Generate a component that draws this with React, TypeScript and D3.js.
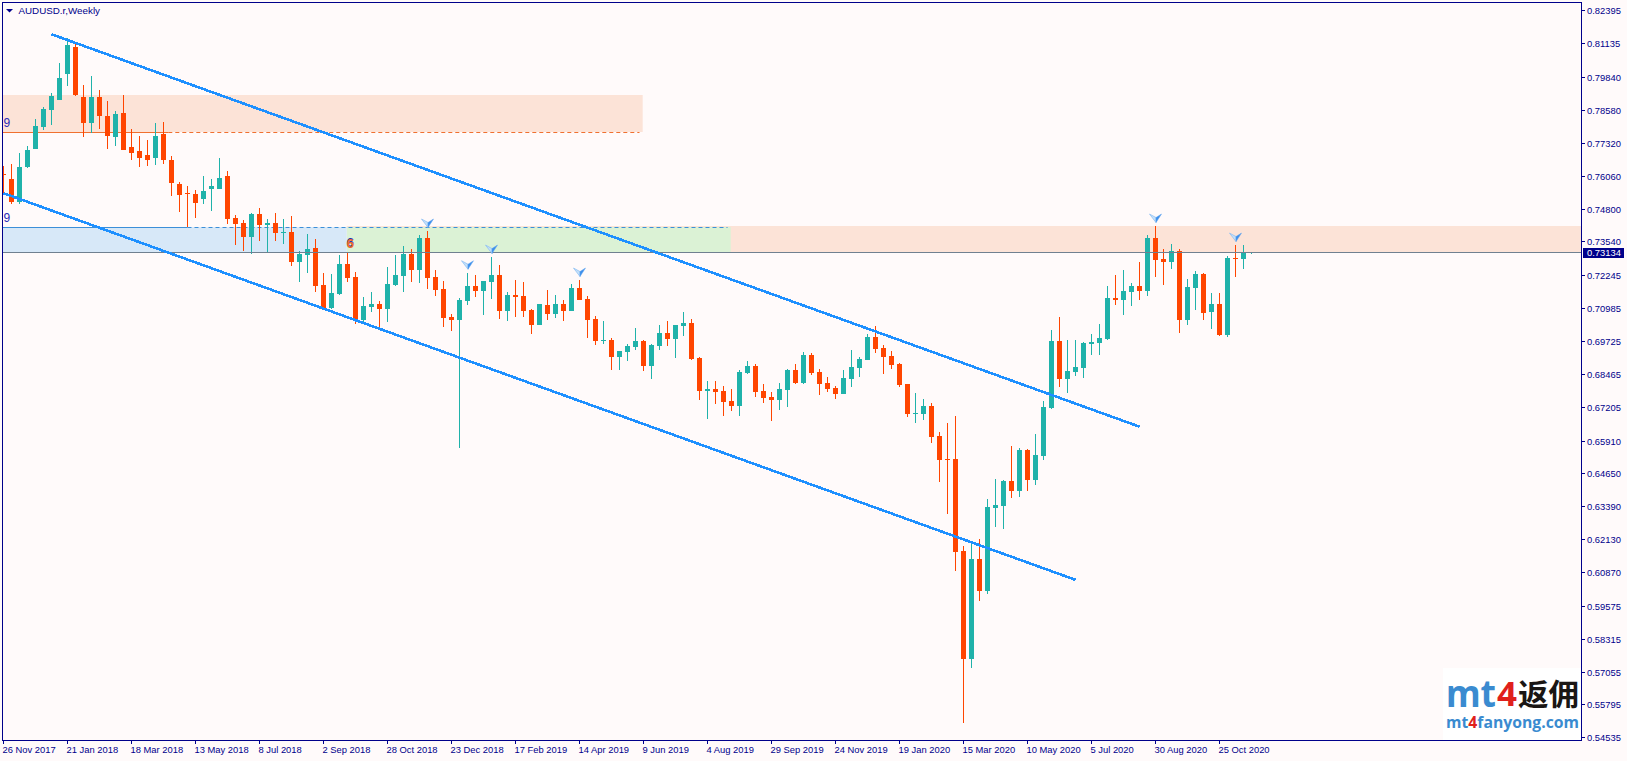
import React from 'react';
import * as d3 from 'd3';

const W = 1627;
const H = 761;

const opens = [
  0.7613, 0.7593, 0.7505, 0.7639, 0.7708, 0.7792, 0.7858, 0.7896, 0.7996, 0.8099,
  0.7907, 0.7808, 0.7907, 0.7835, 0.7754, 0.7846, 0.7716, 0.7700, 0.7685, 0.7674,
  0.7766, 0.7666, 0.7574, 0.7540, 0.7536, 0.7517, 0.7555, 0.7555, 0.7605, 0.7444,
  0.7425, 0.7371, 0.7459, 0.7417, 0.7425, 0.7386, 0.7390, 0.7275, 0.7302, 0.7329,
  0.7187, 0.7099, 0.7153, 0.7268, 0.7218, 0.7053, 0.7103, 0.7115, 0.7095, 0.7187,
  0.7222, 0.7306, 0.7245, 0.7367, 0.7218, 0.7172, 0.7065, 0.7053, 0.7126, 0.7183,
  0.7164, 0.7198, 0.7225, 0.7087, 0.7149, 0.7145, 0.7091, 0.7034, 0.7111, 0.7076,
  0.7115, 0.7087, 0.7176, 0.7134, 0.7057, 0.6973, 0.6976, 0.6911, 0.6930, 0.6950,
  0.6973, 0.6877, 0.6953, 0.7003, 0.6980, 0.7030, 0.7041, 0.6907, 0.6781, 0.6789,
  0.6781, 0.6743, 0.6723, 0.6850, 0.6877, 0.6781, 0.6758, 0.6746, 0.6785, 0.6861,
  0.6812, 0.6919, 0.6854, 0.6812, 0.6793, 0.6770, 0.6827, 0.6869, 0.6900, 0.6988,
  0.6946, 0.6915, 0.6884, 0.6808, 0.6693, 0.6693, 0.6723, 0.6608, 0.6520, 0.6520,
  0.6167, 0.5753, 0.6137, 0.6014, 0.6332, 0.6340, 0.6436, 0.6397, 0.6555, 0.6440,
  0.6532, 0.6716, 0.6973, 0.6827, 0.6854, 0.6869, 0.6961, 0.6965, 0.6980, 0.7137,
  0.7130, 0.7160, 0.7183, 0.7164, 0.7367, 0.7287, 0.7275, 0.7317, 0.7053, 0.7176,
  0.7229, 0.7084, 0.7115, 0.6995, 0.7290, 0.7287, 0.7310,
];

const closes = [
  0.7609, 0.7505, 0.7639, 0.7704, 0.7796, 0.7862, 0.7911, 0.7980, 0.8107, 0.7915,
  0.7808, 0.7907, 0.7835, 0.7758, 0.7842, 0.7704, 0.7693, 0.7674, 0.7666, 0.7758,
  0.7666, 0.7578, 0.7532, 0.7536, 0.7501, 0.7547, 0.7566, 0.7597, 0.7440, 0.7421,
  0.7371, 0.7459, 0.7417, 0.7425, 0.7386, 0.7390, 0.7275, 0.7306, 0.7325, 0.7183,
  0.7099, 0.7157, 0.7268, 0.7214, 0.7057, 0.7107, 0.7115, 0.7095, 0.7191, 0.7225,
  0.7306, 0.7245, 0.7367, 0.7214, 0.7168, 0.7061, 0.7053, 0.7130, 0.7183, 0.7164,
  0.7202, 0.7225, 0.7087, 0.7149, 0.7141, 0.7087, 0.7034, 0.7115, 0.7076, 0.7115,
  0.7087, 0.7176, 0.7130, 0.7053, 0.6973, 0.6976, 0.6911, 0.6934, 0.6953, 0.6973,
  0.6877, 0.6957, 0.7003, 0.6980, 0.7034, 0.7041, 0.6903, 0.6781, 0.6789, 0.6777,
  0.6739, 0.6723, 0.6854, 0.6877, 0.6777, 0.6754, 0.6746, 0.6789, 0.6861, 0.6812,
  0.6919, 0.6850, 0.6808, 0.6789, 0.6770, 0.6831, 0.6873, 0.6903, 0.6988, 0.6942,
  0.6911, 0.6880, 0.6804, 0.6693, 0.6697, 0.6723, 0.6604, 0.6516, 0.6516, 0.6164,
  0.5753, 0.6137, 0.6014, 0.6336, 0.6344, 0.6436, 0.6397, 0.6555, 0.6440, 0.6535,
  0.6719, 0.6973, 0.6827, 0.6857, 0.6873, 0.6965, 0.6969, 0.6984, 0.7137, 0.7130,
  0.7164, 0.7183, 0.7164, 0.7367, 0.7283, 0.7275, 0.7317, 0.7053, 0.7179, 0.7229,
  0.7080, 0.7115, 0.6995, 0.7290, 0.7287, 0.7313, 0.73134,
];

const highs = [
  0.7643, 0.7651, 0.7693, 0.7720, 0.7823, 0.7869, 0.7923, 0.8038, 0.8134, 0.8115,
  0.7954, 0.7988, 0.7934, 0.7892, 0.7854, 0.7915, 0.7785, 0.7758, 0.7743, 0.7808,
  0.7812, 0.7681, 0.7582, 0.7566, 0.7551, 0.7605, 0.7593, 0.7674, 0.7624, 0.7455,
  0.7436, 0.7463, 0.7482, 0.7440, 0.7463, 0.7440, 0.7451, 0.7317, 0.7383, 0.7363,
  0.7234, 0.7230, 0.7302, 0.7313, 0.7237, 0.7141, 0.7160, 0.7126, 0.7256, 0.7302,
  0.7336, 0.7325, 0.7378, 0.7394, 0.7245, 0.7202, 0.7076, 0.7137, 0.7234, 0.7225,
  0.7202, 0.7294, 0.7264, 0.7160, 0.7206, 0.7198, 0.7095, 0.7115, 0.7168, 0.7149,
  0.7130, 0.7191, 0.7206, 0.7145, 0.7069, 0.7049, 0.6984, 0.6934, 0.6961, 0.7022,
  0.6976, 0.6961, 0.7034, 0.7049, 0.7034, 0.7084, 0.7057, 0.6911, 0.6819, 0.6819,
  0.6800, 0.6789, 0.6861, 0.6896, 0.6884, 0.6808, 0.6777, 0.6812, 0.6865, 0.6884,
  0.6930, 0.6927, 0.6865, 0.6834, 0.6800, 0.6861, 0.6938, 0.6911, 0.7000, 0.7030,
  0.6957, 0.6934, 0.6888, 0.6808, 0.6773, 0.6750, 0.6735, 0.6623, 0.6658, 0.6685,
  0.6186, 0.6198, 0.6213, 0.6367, 0.6444, 0.6440, 0.6570, 0.6562, 0.6559, 0.6616,
  0.6743, 0.7015, 0.7065, 0.6976, 0.6976, 0.6969, 0.6999, 0.7038, 0.7183, 0.7225,
  0.7245, 0.7195, 0.7275, 0.7378, 0.7413, 0.7325, 0.7344, 0.7325, 0.7210, 0.7241,
  0.7234, 0.7157, 0.7157, 0.7298, 0.7340, 0.7340, 0.73134,
];

const lows = [
  0.7540, 0.7498, 0.7498, 0.7635, 0.7708, 0.7781, 0.7800, 0.7896, 0.7950, 0.7911,
  0.7754, 0.7770, 0.7785, 0.7708, 0.7720, 0.7704, 0.7666, 0.7639, 0.7643, 0.7647,
  0.7651, 0.7528, 0.7467, 0.7409, 0.7444, 0.7498, 0.7470, 0.7555, 0.7421, 0.7340,
  0.7317, 0.7306, 0.7355, 0.7313, 0.7355, 0.7344, 0.7260, 0.7198, 0.7234, 0.7160,
  0.7095, 0.7095, 0.7149, 0.7198, 0.7038, 0.7045, 0.7084, 0.7022, 0.7045, 0.7183,
  0.7160, 0.7198, 0.7195, 0.7172, 0.7145, 0.7026, 0.7011, 0.6562, 0.7111, 0.7141,
  0.7072, 0.7134, 0.7057, 0.7049, 0.7065, 0.7065, 0.6999, 0.7034, 0.7053, 0.7061,
  0.7049, 0.7087, 0.7130, 0.6984, 0.6957, 0.6961, 0.6861, 0.6861, 0.6896, 0.6938,
  0.6857, 0.6827, 0.6938, 0.6953, 0.6907, 0.6992, 0.6900, 0.6746, 0.6674, 0.6731,
  0.6685, 0.6704, 0.6685, 0.6846, 0.6758, 0.6735, 0.6666, 0.6708, 0.6719, 0.6808,
  0.6808, 0.6842, 0.6766, 0.6777, 0.6750, 0.6770, 0.6796, 0.6834, 0.6900, 0.6927,
  0.6846, 0.6865, 0.6796, 0.6681, 0.6658, 0.6670, 0.6581, 0.6432, 0.6309, 0.6091,
  0.5508, 0.5719, 0.5976, 0.6003, 0.6259, 0.6252, 0.6371, 0.6374, 0.6397, 0.6421,
  0.6516, 0.6712, 0.6796, 0.6773, 0.6838, 0.6831, 0.6919, 0.6919, 0.6976, 0.7111,
  0.7072, 0.7107, 0.7130, 0.7145, 0.7218, 0.7187, 0.7249, 0.7003, 0.7034, 0.7091,
  0.7053, 0.7019, 0.6992, 0.6988, 0.7218, 0.7249, 0.7306,
];

const priceTicks = [
  0.82395, 0.81135, 0.7984, 0.7858, 0.7732, 0.7606, 0.748, 0.7354, 0.72245, 0.70985, 0.69725, 0.68465,
  0.67205, 0.6591, 0.6465, 0.6339, 0.6213, 0.6087, 0.59575, 0.58315, 0.57055, 0.55795, 0.54535,
];

const dateTicks = [
  '26 Nov 2017', '21 Jan 2018', '18 Mar 2018', '13 May 2018', '8 Jul 2018', '2 Sep 2018', '28 Oct 2018',
  '23 Dec 2018', '17 Feb 2019', '14 Apr 2019', '9 Jun 2019', '4 Aug 2019', '29 Sep 2019', '24 Nov 2019',
  '19 Jan 2020', '15 Mar 2020', '10 May 2020', '5 Jul 2020', '30 Aug 2020', '25 Oct 2020',
];

const lastPrice = 0.73134;
// weeks with a fractal arrow above the high
const arrowBars = [53, 58, 61, 72, 144, 154];
// trend lines: [bar, price, bar, price]
const upperLine = [6, 0.8148, 142, 0.6644];
const lowerLine = [0, 0.7539, 134, 0.6057];

const UP = '#20B2AA';
const DOWN = '#FF4500';
const NAVY = '#00008B';
const BLUE = '#1E90FF';
const FONT = '"Liberation Sans", Arial, sans-serif';

const left = 2;
const right = 1581;
const top = 2;
const bottom = 740;

const x = d3.scaleLinear().domain([0, 156]).range([3.5, 1251.5]);
const y = d3.scaleLinear().domain([0.54535, 0.82395]).range([737.3, 10.4]);

const App: React.FC = () => {
  const px = (p: number) => Math.round(y(p));

  return (
    <svg
      width={W}
      height={H}
      style={{ position: 'absolute', left: 0, top: 0, display: 'block', background: '#FFFAFA' }}
    >
      <defs>
        <clipPath id="plot">
          <rect x={left} y={top} width={right - left} height={bottom - top} />
        </clipPath>
      </defs>

      <g clipPath="url(#plot)">
        {/* zones */}
        <rect x={left} y={px(0.7915)} width={x(79.9) - left} height={px(0.7772) - px(0.7915)} fill="#FCE3D7" />
        <rect x={x(42.9)} y={px(0.7413)} width={right - x(42.9)} height={px(lastPrice) - px(0.7413)} fill="#FCE3D7" />
        <rect x={x(42.9)} y={px(0.7408)} width={x(90.9) - x(42.9)} height={px(lastPrice) - px(0.7408)} fill="#DBF2D5" />
        <rect x={left} y={px(0.7408)} width={x(42.9) - left} height={px(lastPrice) - px(0.7408)} fill="#D7E8F8" />

        <line x1={left} x2={x(20.6)} y1={px(0.7772) + 0.5} y2={px(0.7772) + 0.5} stroke="#F07030" />
        <line x1={x(20.6)} x2={x(79.5)} y1={px(0.7772) + 0.5} y2={px(0.7772) + 0.5} stroke="#F07030" strokeDasharray="4 3" />
        <line x1={left} x2={x(23)} y1={px(0.7408) + 0.5} y2={px(0.7408) + 0.5} stroke="#3C8FD8" />
        <line x1={x(23)} x2={x(90.5)} y1={px(0.7408) + 0.5} y2={px(0.7408) + 0.5} stroke="#3C8FD8" strokeDasharray="4 3" />

        <text x={3.5} y={127} fontFamily={FONT} fontSize={12} fill="#2A2AB8">9</text>
        <text x={3.5} y={222} fontFamily={FONT} fontSize={12} fill="#2A2AB8">9</text>
        <text x={346.5} y={247} fontFamily={FONT} fontSize={13.5} fontWeight="bold" fill="#2030B0">6</text>
        <text x={346.5} y={248} fontFamily={FONT} fontSize={13.5} fontWeight="bold" fill="#EE6A2C">6</text>

        {/* candles */}
        <g shapeRendering="crispEdges">
          {closes.map((c, i) => {
            const o = opens[i];
            const color = c >= o ? UP : DOWN;
            const t = px(Math.max(o, c));
            const b = px(Math.min(o, c));
            return (
              <g key={i}>
                <line x1={x(i)} x2={x(i)} y1={px(highs[i])} y2={px(lows[i])} stroke={color} />
                <rect x={x(i) - 2.5} y={t} width={5} height={Math.max(1, b - t)} fill={color} />
              </g>
            );
          })}
        </g>

        {/* price line */}
        <line
          x1={left}
          x2={right}
          y1={px(lastPrice) + 0.5}
          y2={px(lastPrice) + 0.5}
          stroke="#708090"
          shapeRendering="crispEdges"
        />

        {/* trend channel */}
        {[upperLine, lowerLine].map((l, i) => (
          <line
            key={i}
            x1={x(l[0])}
            y1={y(l[1])}
            x2={x(l[2])}
            y2={y(l[3])}
            stroke={BLUE}
            strokeWidth={2.6}
            shapeRendering="crispEdges"
          />
        ))}

        {/* fractal arrows */}
        {arrowBars.map((b) => (
          <g key={b} transform={`translate(${x(b)},${y(highs[b]) - 8})`}>
            <path d="M-6,-4 L0.5,-0.5 L0.5,4.5 Z" fill="#C4E0FA" stroke="#86BCF2" strokeWidth={0.7} />
            <path d="M0.5,-0.5 L6,-4 L0.5,4.5 Z" fill="#3D8EEB" stroke="#5AA2EE" strokeWidth={0.5} />
          </g>
        ))}
      </g>

      {/* watermark */}
      <rect x={1443} y={668} width={right - 1443} height={bottom - 668} fill="#FFFFFF" />
      <text x={1446} y={707} fontFamily='"Noto Sans", sans-serif' fontWeight="bold" fontSize={38} fill="#3A8BD0" textLength={50} lengthAdjust="spacingAndGlyphs">mt</text>
      <text x={1497} y={706} fontFamily='"Noto Sans", sans-serif' fontWeight="bold" fontSize={34} fill="#E0201C" textLength={20} lengthAdjust="spacingAndGlyphs">4</text>
      <text x={1518} y={705} fontFamily='"Noto Sans CJK SC", sans-serif' fontWeight="bold" fontSize={30} fill="#1A1614" textLength={61} lengthAdjust="spacingAndGlyphs">返佣</text>
      <text x={1446} y={728} fontFamily='"Open Sans", sans-serif' fontWeight="bold" fontSize={15.5} fill="#3A8BD0" textLength={133} lengthAdjust="spacingAndGlyphs">
        mt<tspan fill="#E0201C">4</tspan>fanyong.com
      </text>

      {/* frame */}
      <path
        d={`M${left + 0.5},${top + 0.5} H${right + 0.5} V${bottom + 0.5} H${left + 0.5} Z`}
        fill="none"
        stroke={NAVY}
        shapeRendering="crispEdges"
      />

      {/* title */}
      <path d="M6,9 H13 L9.5,12.5 Z" fill={NAVY} />
      <text x={18.5} y={14} fontFamily={FONT} fontSize={9.8} fill={NAVY}>AUDUSD.r,Weekly</text>

      {/* price axis */}
      {priceTicks.map((p) => (
        <g key={p}>
          <line x1={right} x2={right + 4} y1={px(p) + 0.5} y2={px(p) + 0.5} stroke={NAVY} shapeRendering="crispEdges" />
          <text x={right + 6} y={px(p) + 4} fontFamily={FONT} fontSize={9.4} fill={NAVY}>{p.toFixed(5)}</text>
        </g>
      ))}
      <rect x={1583} y={px(lastPrice) - 4} width={41} height={10} fill={NAVY} />
      <text x={right + 6} y={px(lastPrice) + 4} fontFamily={FONT} fontSize={9.4} fill="#FFFFFF">{lastPrice.toFixed(5)}</text>

      {/* time axis */}
      {dateTicks.map((d, i) => (
        <g key={d}>
          <line x1={x(i * 8)} x2={x(i * 8)} y1={bottom} y2={bottom + 4} stroke={NAVY} shapeRendering="crispEdges" />
          <text x={x(i * 8) - 1} y={753} fontFamily={FONT} fontSize={9.4} fill={NAVY}>{d}</text>
        </g>
      ))}
    </svg>
  );
};

export default App;
